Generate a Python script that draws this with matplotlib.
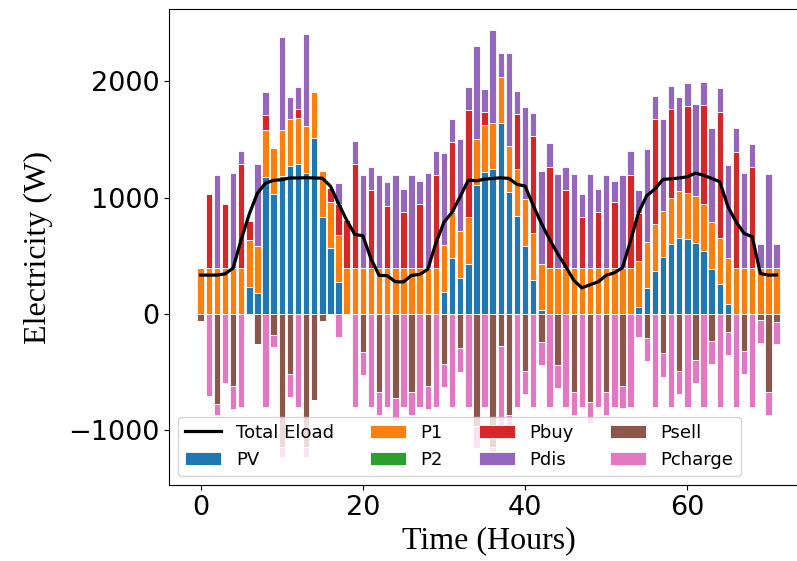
import matplotlib
matplotlib.use("Agg")
import matplotlib.pyplot as plt
import numpy as np

hours = list(range(72))

PV = [0, 0, 0, 0, 0, 0, 235, 183, 1181, 1032, 1186, 1275, 1289, 1215, 1510, 831, 564, 278,
      0, 0, 0, 0, 0, 0, 0, 0, 0, 0, 0, 0, 190, 479, 310, 434, 1109, 1222, 1244, 1640, 1046, 845,
      588, 296, 31, 0, 0, 0, 0, 0, 0, 0, 0, 0, 0, 0, 57, 221, 370, 487, 599, 656, 645, 611, 544,
      388, 258, 83, 0, 0, 0, 0, 0, 0]
P1 = [400] * 72
P2 = [0] * 72
Pbuy = [0, 632, 0, 543, 0, 889, 163, 0, 131, 0, 0, 0, 70, 0, 0, 0, 120, 266, 405, 887, 0, 666,
        0, 531, 0, 480, 0, 543, 0, 798, 0, 599, 0, 920, 0, 115, 0, 0, 0, 475, 0, 831, 0, 866, 0,
        666, 0, 431, 0, 480, 0, 566, 0, 798, 409, 0, 908, 0, 765, 0, 742, 0, 851, 0, 1083, 0, 995,
        0, 864, 0, 0, 0]
Pdis = [0, 0, 798, 0, 809, 109, 0, 708, 201, 0, 799, 195, 192, 794, 0, 0, 0, 187, 0, 197, 798,
        198, 798, 201, 798, 197, 798, 200, 809, 200, 794, 201, 794, 200, 797, 197, 799, 201, 797,
        201, 796, 201, 802, 201, 800, 200, 800, 200, 800, 197, 798, 180, 798, 200, 201, 796, 198,
        793, 198, 808, 198, 796, 200, 808, 201, 799, 201, 809, 200, 199, 801, 199]
Psell = [60, 0, 774, 0, 619, 0, 0, 261, 0, 183, 1140, 516, 0, 1140, 735, 60, 0, 0, 0, 0, 330, 0,
         673, 0, 725, 0, 668, 0, 619, 0, 430, 0, 295, 0, 960, 0, 1140, 275, 870, 0, 487, 0, 241, 0,
         438, 0, 673, 0, 754, 0, 668, 0, 619, 0, 0, 206, 0, 338, 0, 493, 0, 395, 0, 229, 0, 152, 0,
         318, 0, 52, 673, 66]
Pcharge = [0, 705, 95, 590, 198, 802, 0, 0, 802, 98, 87, 195, 802, 92, 0, 0, 0, 195, 0, 802, 195,
           802, 195, 802, 198, 802, 200, 802, 198, 802, 195, 802, 206, 802, 195, 802, 135, 794, 205,
           802, 201, 802, 197, 802, 201, 802, 195, 802, 186, 802, 200, 802, 192, 802, 195, 198, 802,
           201, 802, 197, 802, 201, 802, 201, 802, 200, 802, 198, 802, 200, 195, 195]
Eload = [335, 335, 335, 345, 395, 640, 860, 1040, 1125, 1150, 1155, 1170, 1170, 1172, 1170, 1168,
         1100, 950, 808, 685, 673, 475, 333, 330, 278, 276, 333, 340, 385, 610, 790, 875, 1010, 1152,
         1145, 1160, 1166, 1172, 1166, 1115, 1100, 935, 780, 645, 520, 410, 290, 225, 252, 277, 333,
         355, 398, 630, 875, 1018, 1075, 1158, 1163, 1170, 1180, 1212, 1193, 1166, 1138, 925, 794,
         693, 665, 348, 335, 336]

x = np.array(hours)
pv = np.array(PV, float)
p1 = np.array(P1, float)
p2 = np.array(P2, float)
pb = np.array(Pbuy, float)
pd = np.array(Pdis, float)
ps = np.array(Psell, float)
pc = np.array(Pcharge, float)

fig = plt.figure(figsize=(7.97, 5.61), dpi=100)
W, H = 797, 561
left_px, right_px, top_px, bot_px = 169, 809, 9, 485
ax = fig.add_axes([left_px / W, 1 - bot_px / H, (right_px - left_px) / W, (bot_px - top_px) / H])

kw = dict(width=0.8, edgecolor='white', linewidth=0.6)
ax.bar(x, pv, color='tab:blue', label='PV', **kw)
ax.bar(x, p1, bottom=pv, color='tab:orange', label='P1', **kw)
ax.bar(x, p2, bottom=pv + p1, color='tab:green', label='P2', **kw)
ax.bar(x, pb, bottom=pv + p1 + p2, color='tab:red', label='Pbuy', **kw)
ax.bar(x, pd, bottom=pv + p1 + p2 + pb, color='tab:purple', label='Pdis', **kw)
ax.bar(x, -ps, color='tab:brown', label='Psell', **kw)
ax.bar(x, -pc, bottom=-ps, color='tab:pink', label='Pcharge', **kw)
line, = ax.plot(x, Eload, color='black', linewidth=2.3, label='Total Eload', zorder=5)

ax.set_xlim(-3.9, 75.0)
ax.set_ylim(-1470, 2623)
ax.set_xticks([0, 20, 40, 60])
ax.set_yticks([-1000, 0, 1000, 2000])
ax.tick_params(labelsize=19.5)

serif = ['Liberation Serif', 'DejaVu Serif']
ax.set_ylabel('Electricity (W)', fontsize=23, family=serif, labelpad=11)
ax.set_xlabel('Time (Hours)', fontsize=23, family=serif, labelpad=4)

handles, labels = ax.get_legend_handles_labels()
order = ['Total Eload', 'PV', 'P1', 'P2', 'Pbuy', 'Pdis', 'Psell', 'Pcharge']
hmap = dict(zip(labels, handles))
ax.legend([hmap[k] for k in order], order, loc='lower left', ncol=4, fontsize=13)

fig.savefig('out.png', dpi=100)
